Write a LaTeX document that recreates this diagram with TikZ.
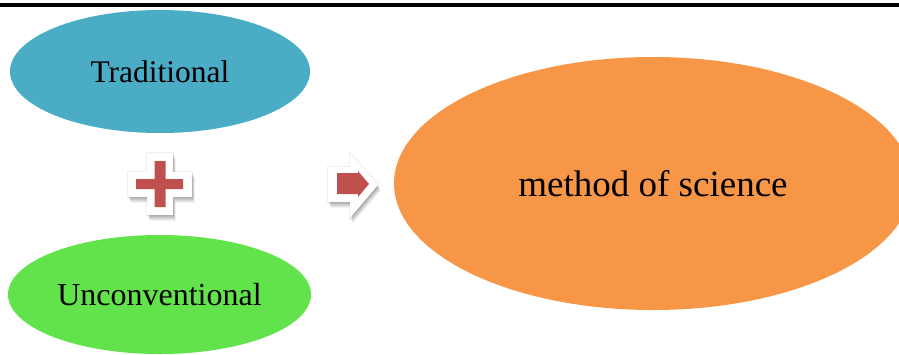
\documentclass[tikz,border=0pt]{standalone}
\usepackage{fontspec}
\setmainfont{Liberation Serif}
\usetikzlibrary{shapes.geometric}
\definecolor{cblue}{HTML}{4BACC6}
\definecolor{cgreen}{HTML}{63E34B}
\definecolor{corange}{HTML}{F79646}
\definecolor{cred}{HTML}{C0504D}
\tikzset{
  blob/.style={ellipse, inner sep=0pt, draw=none, text=black},
  shad/.style={fill=black, fill opacity=0.07, draw=none},
  halo/.style={draw=black, draw opacity=0.06, line width=2pt, fill=none},
}
\begin{document}
\begin{tikzpicture}[x=1pt,y=-1pt]
\useasboundingbox (0,0) rectangle (899,354);
\fill[white] (0,0) rectangle (899,354);
\fill[black] (0,3) rectangle (899,7);
\node[blob, fill=cblue, minimum width=300pt, minimum height=123pt,
  font=\fontsize{31.5}{36}\selectfont] (trad) at (160,71.5) {Traditional};
\node[blob, fill=cgreen, minimum width=303pt, minimum height=119pt,
  font=\fontsize{32}{36}\selectfont] (unconv) at (159.5,294.5) {Unconventional};
\node[blob, fill=corange, minimum width=518pt, minimum height=253pt,
  font=\fontsize{37}{42}\selectfont] (method) at (653,183.5) {method of science};
% plus sign with soft shadow
\foreach \d in {1,2,3,4,5} {
  \fill[shad, shift={(0.5*\d,1.1*\d)}]
    (147,153) -- (173,153) -- (173,172) -- (192,172) -- (192,197) -- (173,197)
    -- (173,215) -- (147,215) -- (147,197) -- (128,197) -- (128,172) -- (147,172) -- cycle;
}
\draw[halo]
    (147,153) -- (173,153) -- (173,172) -- (192,172) -- (192,197) -- (173,197)
    -- (173,215) -- (147,215) -- (147,197) -- (128,197) -- (128,172) -- (147,172) -- cycle;
\fill[white]
    (147,153) -- (173,153) -- (173,172) -- (192,172) -- (192,197) -- (173,197)
    -- (173,215) -- (147,215) -- (147,197) -- (128,197) -- (128,172) -- (147,172) -- cycle;
\fill[cred]
    (154.5,161) -- (165.5,161) -- (165.5,179) -- (183,179) -- (183,189) -- (165.5,189)
    -- (165.5,207) -- (154.5,207) -- (154.5,189) -- (136,189) -- (136,179) -- (154.5,179) -- cycle;
% arrow with soft shadow
\foreach \d in {1,2,3,4,5} {
  \fill[shad, shift={(0.5*\d,1.1*\d)}]
    (328,167) -- (350,167) -- (350,153) -- (378,185) -- (350,218) -- (350,202) -- (328,202) -- cycle;
}
\draw[halo]
    (328,167) -- (350,167) -- (350,153) -- (378,185) -- (350,218) -- (350,202) -- (328,202) -- cycle;
\fill[white]
    (328,167) -- (350,167) -- (350,153) -- (378,185) -- (350,218) -- (350,202) -- (328,202) -- cycle;
\fill[cred]
    (337,173) -- (358,173) -- (358,171) -- (369,184) -- (358,197) -- (358,194) -- (337,194) -- cycle;
\end{tikzpicture}
\end{document}
